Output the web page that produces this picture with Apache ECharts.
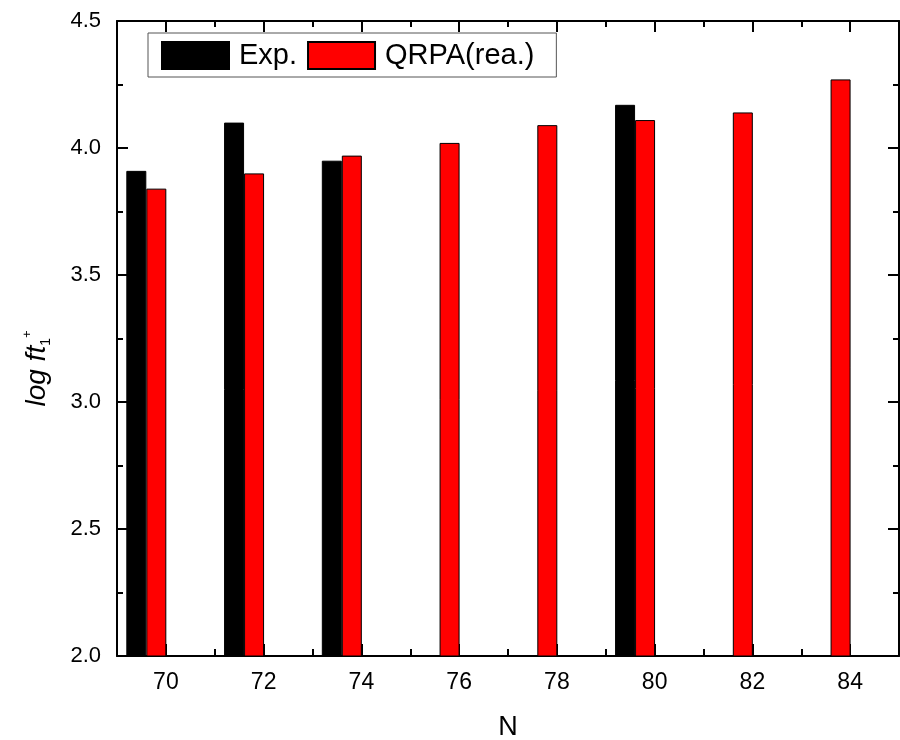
<!DOCTYPE html>
<html><head><meta charset="utf-8">
<script src="https://cdn.jsdelivr.net/npm/echarts@6/dist/echarts.min.js"></script>
<style>html,body{margin:0;padding:0;background:#fff}#c{width:900px;height:740px}</style>
</head><body><div id="c"></div>
<script>
// ---- data ----
const nValues = [70, 72, 74, 76, 78, 80, 82, 84];
const expValues = [3.91, 4.10, 3.95, null, null, 4.17, null, null];
const qrpaValues = [3.84, 3.90, 3.97, 4.02, 4.09, 4.11, 4.14, 4.27];
const yTickLabels = ['2.0', '2.5', '3.0', '3.5', '4.0', '4.5'];
const seriesNames = ['Exp.', 'QRPA(rea.)'];

// ---- layout / style ----
const FONT = '"Liberation Sans", Arial, Helvetica, sans-serif';
const X_MIN = 69, X_MAX = 85;
const BAR_SHIFT = 0.4;
const lineSt = { color: '#000', width: 2 };

const expData = nValues.map((n, i) => [n, expValues[i]]).filter(d => d[1] !== null);
const qrpaData = nValues.map((n, i) => [n, qrpaValues[i]]);

const chart = echarts.init(document.getElementById('c'), null, { renderer: 'canvas' });

const option = {
  animation: false,
  backgroundColor: '#fff',
  grid: { left: 117, right: 1, top: 21, bottom: 84, containLabel: false, outerBoundsMode: 'none' },
  legend: {
    left: 148, top: 33,
    padding: [8, 22, 7, 13],
    itemWidth: 67, itemHeight: 27, itemGap: 10,
    borderColor: '#555', borderWidth: 1, backgroundColor: '#fff',
    textStyle: { fontSize: 29, color: '#000', fontFamily: FONT, padding: [0, 0, 0, 5] },
    data: seriesNames,
    icon: 'rect'
  },
  xAxis: [
    { // bottom ticks
      type: 'value', position: 'bottom', min: X_MIN, max: X_MAX, interval: 2,
      axisLine: { show: true, onZero: false, lineStyle: lineSt },
      axisTick: { show: true, inside: true, length: 7, lineStyle: lineSt },
      minorTick: { show: true, splitNumber: 2, length: 12, lineStyle: lineSt },
      axisLabel: { show: false }, splitLine: { show: false }, minorSplitLine: { show: false }
    },
    { // bottom labels
      type: 'value', position: 'bottom', min: X_MIN, max: X_MAX, interval: 1,
      axisLine: { show: false }, axisTick: { show: false }, splitLine: { show: false },
      axisLabel: {
        fontSize: 23, color: '#000', fontFamily: FONT, margin: 15,
        formatter: v => nValues.includes(v) ? String(v) : ''
      },
      name: 'N', nameLocation: 'middle', nameGap: 58,
      nameTextStyle: { fontSize: 27, color: '#000', fontFamily: FONT }
    },
    { // top
      type: 'value', position: 'top', min: X_MIN, max: X_MAX, interval: 2,
      axisLine: { show: true, onZero: false, lineStyle: lineSt },
      axisTick: { show: true, inside: true, length: 6, lineStyle: lineSt },
      minorTick: { show: true, splitNumber: 2, length: 11, lineStyle: lineSt },
      axisLabel: { show: false }, splitLine: { show: false }, minorSplitLine: { show: false }
    },
    { // bars
      type: 'value', position: 'bottom', show: false,
      min: X_MIN + BAR_SHIFT, max: X_MAX + BAR_SHIFT,
      splitLine: { show: false }
    }
  ],
  yAxis: [
    {
      type: 'value', position: 'left', min: 2, max: 4.5, interval: 0.5,
      axisLine: { show: true, onZero: false, lineStyle: lineSt },
      axisTick: { show: true, inside: true, length: 11, lineStyle: lineSt },
      minorTick: { show: true, splitNumber: 2, length: 6, lineStyle: lineSt },
      splitLine: { show: false }, minorSplitLine: { show: false },
      axisLabel: {
        fontSize: 22, color: '#000', fontFamily: FONT, margin: 16,
        formatter: v => yTickLabels.find(t => Math.abs(parseFloat(t) - v) < 1e-9) || ''
      },
      name: '{i|log ft}{sub|1}{sup|+}',
      nameLocation: 'middle', nameGap: 64, nameRotate: 90,
      nameTextStyle: {
        padding: [0, 60, 0, 0],
        rich: {
          i: { fontSize: 28, fontStyle: 'italic', fontFamily: FONT, color: '#000', lineHeight: 32 },
          sub: { fontSize: 14, fontFamily: FONT, color: '#000', verticalAlign: 'bottom', lineHeight: 14 },
          sup: { fontSize: 13, fontFamily: FONT, color: '#000', verticalAlign: 'top', lineHeight: 13 }
        }
      }
    },
    {
      type: 'value', position: 'right', min: 2, max: 4.5, interval: 0.5,
      axisLine: { show: true, onZero: false, lineStyle: lineSt },
      axisTick: { show: true, inside: true, length: 11, lineStyle: lineSt },
      minorTick: { show: true, splitNumber: 2, length: 6, lineStyle: lineSt },
      splitLine: { show: false }, minorSplitLine: { show: false },
      axisLabel: { show: false }
    }
  ],
  series: [
    {
      name: seriesNames[0], type: 'bar', xAxisIndex: 3, yAxisIndex: 0,
      barWidth: 20, barGap: '0%',
      itemStyle: { color: '#000', borderColor: '#000', borderWidth: 1 },
      data: expData
    },
    {
      name: seriesNames[1], type: 'bar', xAxisIndex: 3, yAxisIndex: 0,
      barWidth: 20, barGap: '0%',
      itemStyle: { color: '#ff0000', borderColor: '#000', borderWidth: 1 },
      data: qrpaData
    }
  ]
};
chart.setOption(option);
</script>
</body></html>
